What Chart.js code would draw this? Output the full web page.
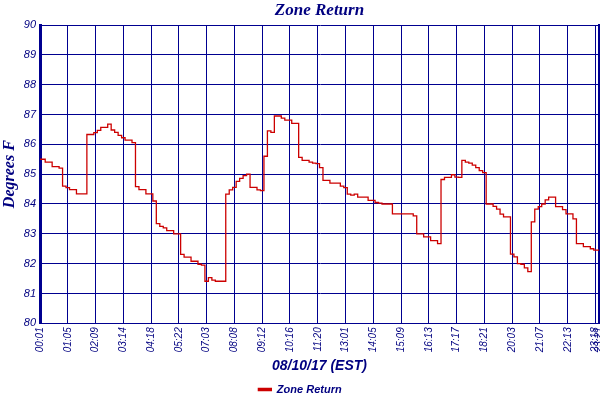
<!DOCTYPE html>
<html>
<head>
<meta charset="utf-8">
<script src="https://cdn.jsdelivr.net/npm/chart.js@4.4.0/dist/chart.umd.min.js"></script>
<style>
  html, body { margin: 0; padding: 0; background: #fff; }
  #wrap { width: 600px; height: 400px; }
</style>
</head>
<body>
<div id="wrap"><canvas id="chart" width="600" height="400"></canvas></div>
<script>
// Zone return temperature, 08/10/17 (8 samples per grid interval)
const tickLabels = ["00:01", "01:05", "02:09", "03:14", "04:18", "05:22", "07:03", "08:08", "09:12", "10:16",
  "11:20", "13:01", "14:05", "15:09", "16:13", "17:17", "18:21", "20:03", "21:07", "22:13", "23:18", "23:21"];
const tickIndex = [0, 8, 16, 24, 32, 40, 48, 56, 64, 72, 80, 88, 96, 104, 112, 120, 128, 136, 144, 152, 160, 161];

const zoneReturn = [
  85.5, 85.5, 85.4, 85.4, 85.25, 85.25, 85.2, 84.6, 84.55, 84.48,
  84.48, 84.34, 84.34, 84.34, 86.33, 86.33, 86.39, 86.47, 86.57, 86.57,
  86.68, 86.48, 86.4, 86.3, 86.22, 86.14, 86.14, 86.06, 84.58, 84.48,
  84.48, 84.34, 84.34, 84.1, 83.34, 83.25, 83.2, 83.11, 83.11, 83.0,
  83.0, 82.31, 82.22, 82.22, 82.08, 82.08, 81.98, 81.95, 81.41, 81.53,
  81.45, 81.41, 81.41, 81.41, 84.33, 84.47, 84.56, 84.76, 84.86, 84.95,
  85.0, 84.56, 84.56, 84.47, 84.45, 85.6, 86.45, 86.4, 86.95, 86.95,
  86.88, 86.81, 86.81, 86.7, 86.7, 85.56, 85.46, 85.46, 85.4, 85.37,
  85.35, 85.22, 84.79, 84.79, 84.7, 84.7, 84.7, 84.6, 84.55, 84.33,
  84.3, 84.33, 84.23, 84.23, 84.23, 84.12, 84.12, 84.05, 84.03, 84.0,
  84.0, 84.0, 83.67, 83.67, 83.67, 83.67, 83.67, 83.67, 83.6, 83.0,
  83.0, 82.9, 82.9, 82.77, 82.77, 82.67, 84.82, 84.89, 84.89, 84.98,
  84.9, 84.89, 85.46, 85.4, 85.37, 85.3, 85.22, 85.12, 85.05, 84.0,
  84.0, 83.92, 83.83, 83.66, 83.57, 83.57, 82.32, 82.23, 82.0, 81.98,
  81.86, 81.73, 83.4, 83.83, 83.91, 84.0, 84.14, 84.23, 84.23, 83.91,
  83.91, 83.81, 83.67, 83.67, 83.5, 82.67, 82.67, 82.57, 82.57, 82.5,
  82.45, 82.45
];

const yTicks = [80, 81, 82, 83, 84, 85, 86, 87, 88, 89, 90];

const NAVY = "#000080";
const GRID = "#000090";
const RED = "#cc0000";

const points = zoneReturn.map((v, i) => ({ x: i, y: v }));

new Chart(document.getElementById("chart"), {
  type: "line",
  data: {
    datasets: [{
      label: "Zone Return",
      data: points,
      borderColor: RED,
      backgroundColor: RED,
      borderWidth: 1.3,
      pointRadius: 0,
      stepped: "middle",
      fill: false
    }]
  },
  options: {
    responsive: false,
    animation: false,
    devicePixelRatio: 1,
    // legend sits a little lower than Chart.js would put it
    layout: { padding: { left: 0, right: 0, top: 0, bottom: -5 } },
    plugins: {
      title: {
        display: true,
        text: "Zone Return",
        color: NAVY,
        fullSize: false,
        font: { family: "Liberation Serif", size: 17, style: "italic", weight: "bold" },
        padding: { top: 0, bottom: 4.6 }
      },
      legend: {
        position: "bottom",
        labels: {
          color: NAVY,
          boxWidth: 13,
          boxHeight: 2,
          padding: 3,
          font: { family: "Liberation Sans", size: 11, style: "italic", weight: "bold" }
        }
      },
      tooltip: { enabled: false }
    },
    scales: {
      x: {
        type: "linear",
        min: 0,
        max: tickIndex[tickIndex.length - 1],
        afterBuildTicks: s => { s.ticks = tickIndex.map(v => ({ value: v })); },
        afterFit: s => { s.height = 57.7; s.paddingLeft = 0; s.paddingRight = 0; },
        ticks: {
          autoSkip: false,
          minRotation: 90,
          maxRotation: 90,
          padding: 4,
          color: NAVY,
          font: { family: "Liberation Sans", size: 10, style: "italic" },
          callback: (v, i) => tickLabels[i]
        },
        grid: { color: GRID, lineWidth: 1, drawTicks: false },
        border: { color: GRID, width: 1 },
        title: {
          display: true,
          text: "08/10/17 (EST)",
          color: NAVY,
          font: { family: "Liberation Sans", size: 14, style: "italic", weight: "bold" },
          padding: { top: 4, bottom: 6.6 }
        }
      },
      y: {
        min: yTicks[0],
        max: yTicks[yTicks.length - 1],
        afterBuildTicks: s => { s.ticks = yTicks.map(v => ({ value: v })); },
        afterFit: s => { s.width = 40; },
        ticks: {
          padding: 4,
          color: NAVY,
          font: { family: "Liberation Sans", size: 11, style: "italic" }
        },
        grid: { color: GRID, lineWidth: 1, drawTicks: false },
        border: { color: GRID, width: 3 },
        title: {
          display: true,
          text: "Degrees F",
          color: NAVY,
          font: { family: "Liberation Serif", size: 16, style: "italic", weight: "bold" },
          padding: { top: 0, bottom: 0 }
        }
      },
      yRight: {
        position: "right",
        display: true,
        min: yTicks[0],
        max: yTicks[yTicks.length - 1],
        afterFit: s => { s.width = 1; },
        ticks: { display: false },
        grid: { display: false, drawTicks: false },
        border: { color: GRID, width: 3 }
      }
    }
  }
});
</script>
</body>
</html>
